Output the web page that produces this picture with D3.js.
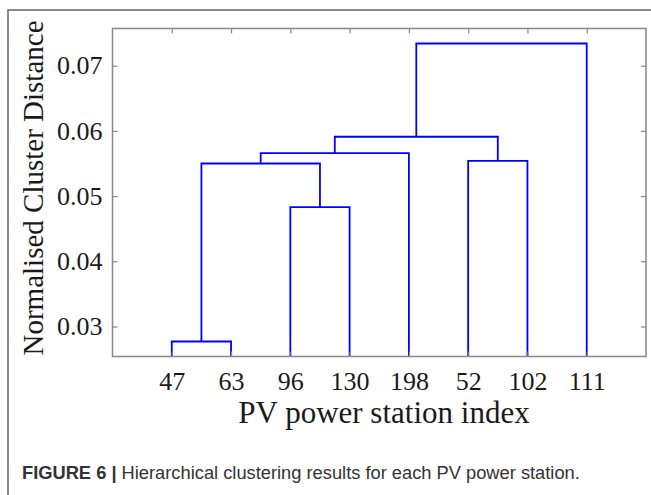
<!DOCTYPE html>
<html>
<head>
<meta charset="utf-8">
<script src="https://cdn.jsdelivr.net/npm/d3@7"></script>
<style>
  html, body { margin: 0; padding: 0; background: #fff; }
  svg { display: block; }
</style>
</head>
<body>
<svg id="chart" width="651" height="495"></svg>
<script>
// ---- data ----
const leaves = ["47", "63", "96", "130", "198", "52", "102", "111"];
// linkage: node ids 0..7 are leaves, 8.. are merged clusters (in order)
const mergeA = [0, 2, 8, 5, 10, 12, 13];
const mergeB = [1, 3, 9, 6, 4, 11, 7];
const mergeH = [0.0277, 0.0483, 0.0550, 0.0554, 0.0566, 0.0591, 0.0734];
const yTicks = [0.03, 0.04, 0.05, 0.06, 0.07];
const yDomain = [0.0254, 0.0757];

const svg = d3.select("#chart");
const W = 651, H = 495;
const plot = { left: 112.5, right: 646, top: 28.5, bottom: 356.5 };

// outer frame (top + left lines)
svg.append("path")
  .attr("d", `M8,${H} V10 H${W}`)
  .attr("fill", "none").attr("stroke", "#666").attr("stroke-width", 1.5);

const x = d3.scaleLinear().domain([0, leaves.length + 1]).range([plot.left, plot.right]);
const y = d3.scaleLinear().domain(yDomain).range([plot.bottom, plot.top]);

svg.append("defs").append("clipPath").attr("id", "clip")
  .append("rect")
  .attr("x", plot.left).attr("y", plot.top)
  .attr("width", plot.right - plot.left).attr("height", plot.bottom - plot.top);

// compute node positions
const nodeX = leaves.map((d, i) => x(i + 1));
const nodeH = leaves.map(() => 0);
mergeA.forEach((a, k) => {
  const b = mergeB[k];
  nodeX.push((nodeX[a] + nodeX[b]) / 2);
  nodeH.push(mergeH[k]);
});

const g = svg.append("g").attr("clip-path", "url(#clip)");
g.selectAll("path.link")
  .data(mergeA.map((a, k) => ({ a, b: mergeB[k], h: mergeH[k] })))
  .join("path")
  .attr("class", "link")
  .attr("fill", "none")
  .attr("stroke", "#0000ff")
  .attr("stroke-width", 1.8)
  .attr("d", d => {
    const ya = Math.min(y(nodeH[d.a]), plot.bottom + 5);
    const yb = Math.min(y(nodeH[d.b]), plot.bottom + 5);
    return `M${nodeX[d.a]},${ya} V${y(d.h)} H${nodeX[d.b]} V${yb}`;
  });

// axes
const fontFam = "'Liberation Serif', 'Times New Roman', serif";
const axisColor = "#888";

const xTickVals = leaves.map((d, i) => i + 1);

const axLeft = svg.append("g").attr("transform", `translate(${plot.left},0)`)
  .call(d3.axisLeft(y).tickValues(yTicks).tickSize(-5).tickPadding(10).tickFormat(d3.format(".2f")));
const axRight = svg.append("g").attr("transform", `translate(${plot.right},0)`)
  .call(d3.axisRight(y).tickValues(yTicks).tickSize(-5).tickFormat(""));
const axTop = svg.append("g").attr("transform", `translate(0,${plot.top})`)
  .call(d3.axisTop(x).tickValues(xTickVals).tickSize(-5).tickFormat(""));
const axBottom = svg.append("g").attr("transform", `translate(0,${plot.bottom})`)
  .call(d3.axisBottom(x).tickValues(xTickVals).tickSize(-5).tickPadding(15)
    .tickFormat(d => leaves[d - 1]));

[axLeft, axRight, axTop, axBottom].forEach(ax => {
  ax.select(".domain").remove();
  ax.selectAll(".tick line").attr("stroke", axisColor).attr("stroke-width", 1.2);
  ax.selectAll(".tick text")
    .attr("font-family", fontFam).attr("font-size", 26).attr("fill", "#1a1a1a");
});

// plot box
svg.append("rect")
  .attr("x", plot.left).attr("y", plot.top)
  .attr("width", plot.right - plot.left).attr("height", plot.bottom - plot.top)
  .attr("fill", "none").attr("stroke", axisColor).attr("stroke-width", 1.5);

// axis titles
svg.append("text")
  .attr("x", 384).attr("y", 423)
  .attr("text-anchor", "middle")
  .attr("font-family", fontFam).attr("font-size", 31).attr("fill", "#1a1a1a")
  .text("PV power station index");

svg.append("text")
  .attr("transform", "translate(43,188) rotate(-90)")
  .attr("text-anchor", "middle")
  .attr("font-family", fontFam).attr("font-size", 29).attr("fill", "#1a1a1a")
  .text("Normalised Cluster Distance");

// caption
const cap = svg.append("text")
  .attr("x", 22).attr("y", 479)
  .attr("font-family", "'Liberation Sans', Arial, sans-serif")
  .attr("font-size", 18.3).attr("fill", "#333");
cap.append("tspan").attr("font-weight", "bold").text("FIGURE 6 | ");
cap.append("tspan").text("Hierarchical clustering results for each PV power station.");
</script>
</body>
</html>
